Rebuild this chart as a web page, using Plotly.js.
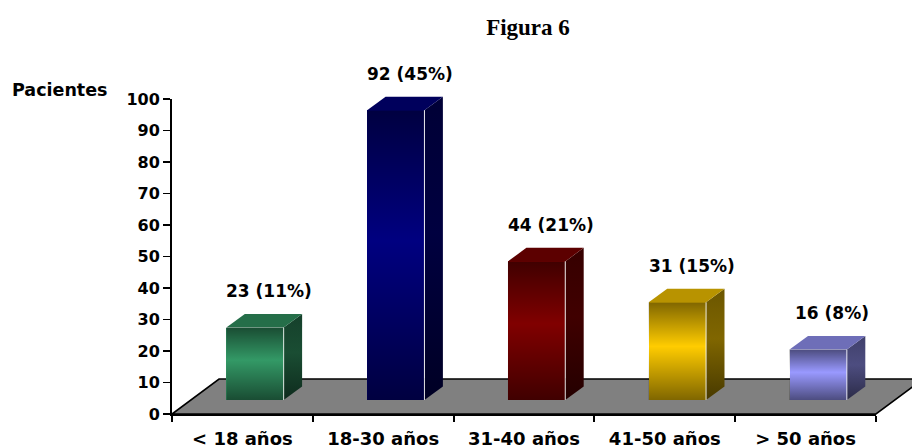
<!DOCTYPE html>
<html>
<head>
<meta charset="utf-8">
<script src="https://cdn.plot.ly/plotly-3.0.1.min.js"></script>
<style>
  html, body { margin: 0; padding: 0; background: #ffffff; }
  #chart { width: 912px; height: 448px; }
</style>
</head>
<body>
<div id="chart"></div>
<script>
// Age groups and patient counts
const categories = ['< 18 años', '18-30 años', '31-40 años', '41-50 años', '> 50 años'];
const patients = [23, 92, 44, 31, 16];
const percents = [11, 45, 21, 15, 8];
const barColors = ['#339966', '#000080', '#800000', '#FFCC00', '#9999FF'];
const yTicks = [0, 10, 20, 30, 40, 50, 60, 70, 80, 90, 100];

// Pseudo-3D geometry (in axis units of the hidden x2/y2 scales)
const BAR_WIDTH = 0.407;
const BAR_OFFSET = -0.114;
const DEPTH_X = 0.131;
const DEPTH_Y = 4.3;
const FLOOR_DX = 0.334;
const FLOOR_FRONT = -4.44;
const FLOOR_BACK = 6.67;

function shade(hex, f) {
  const n = parseInt(hex.slice(1), 16);
  const r = Math.round(((n >> 16) & 255) * f);
  const g = Math.round(((n >> 8) & 255) * f);
  const b = Math.round((n & 255) * f);
  return `rgb(${r},${g},${b})`;
}

const n = categories.length;
const traces = [];

// carrier trace so the visible category/value axes are drawn
traces.push({
  type: 'scatter', mode: 'markers', xaxis: 'x', yaxis: 'y',
  x: patients.map((_, i) => i), y: patients,
  marker: { opacity: 0, size: 1 }, hoverinfo: 'skip', showlegend: false
});

// front faces
traces.push({
  type: 'bar', xaxis: 'x2', yaxis: 'y2',
  x: patients.map((_, i) => i), y: patients,
  width: BAR_WIDTH, offset: BAR_OFFSET,
  marker: { color: barColors, line: { width: 0 } },
  hoverinfo: 'skip', showlegend: false
});

patients.forEach((v, i) => {
  const xl = i + BAR_OFFSET;
  const xr = xl + BAR_WIDTH;
  const c = barColors[i];
  // shading band on the front face
  traces.push({
    type: 'scatter', mode: 'lines', xaxis: 'x2', yaxis: 'y2',
    x: [xl, xr, xr, xl, xl], y: [0, 0, v, v, 0],
    fill: 'toself', line: { width: 0 },
    fillgradient: {
      type: 'vertical',
      colorscale: [[0, 'rgba(0,0,0,0.5)'], [0.55, 'rgba(0,0,0,0)'], [1, 'rgba(0,0,0,0.5)']]
    },
    hoverinfo: 'skip', showlegend: false
  });
  // side face
  traces.push({
    type: 'scatter', mode: 'lines', xaxis: 'x2', yaxis: 'y2',
    x: [xr, xr + DEPTH_X, xr + DEPTH_X, xr, xr],
    y: [0, DEPTH_Y, v + DEPTH_Y, v, 0],
    fill: 'toself', line: { width: 0 },
    fillgradient: {
      type: 'vertical',
      colorscale: [[0, shade(c, 0.28)], [0.55, shade(c, 0.5)], [1, shade(c, 0.42)]]
    },
    hoverinfo: 'skip', showlegend: false
  });
  // top face
  traces.push({
    type: 'scatter', mode: 'lines', xaxis: 'x2', yaxis: 'y2',
    x: [xl, xr, xr + DEPTH_X, xl + DEPTH_X, xl],
    y: [v, v, v + DEPTH_Y, v + DEPTH_Y, v],
    fill: 'toself', fillcolor: shade(c, 0.72), line: { width: 0 },
    hoverinfo: 'skip', showlegend: false
  });
  // highlight edge between front and side
  traces.push({
    type: 'scatter', mode: 'lines', xaxis: 'x2', yaxis: 'y2',
    x: [xr, xr], y: [0, v],
    line: { color: 'rgba(255,255,255,0.85)', width: 1 },
    hoverinfo: 'skip', showlegend: false
  });
});

const W = 912, H = 448;
const plotLeft = 172, plotRight = 876, plotTop = 99, plotBottom = 414;
const catPx = (plotRight - plotLeft) / n;
const valPx = (plotBottom - plotTop) / 100;
const baseY = 400;

const labelFont = { family: 'DejaVu Sans', size: 17, color: '#000000', weight: 700 };

const annotations = patients.map((v, i) => ({
  xref: 'x2', yref: 'y2', x: i + 0.19, y: v + 11.5,
  text: `${v} (${percents[i]}%)`, showarrow: false,
  xanchor: 'center', yanchor: 'middle', font: labelFont
}));
annotations.push({
  xref: 'paper', yref: 'paper', x: 60 / W, y: 1 - 90 / H,
  text: 'Pacientes', showarrow: false, xanchor: 'center', yanchor: 'middle',
  font: { family: 'DejaVu Sans', size: 17.5, color: '#000000', weight: 700 }
});

// grey floor plate under the bars
const floorX = [-0.5, n - 0.5, n - 0.5 + FLOOR_DX, -0.5 + FLOOR_DX];
const floorY = [FLOOR_FRONT, FLOOR_FRONT, FLOOR_BACK, FLOOR_BACK];
const floorPath = floorX.map((x, k) => (k ? 'L' : 'M') + x + ',' + floorY[k]).join(' ') + ' Z';

const layout = {
  width: W, height: H, autosize: false,
  margin: { l: 0, r: 0, t: 0, b: 0, pad: 0 },
  paper_bgcolor: '#ffffff', plot_bgcolor: 'rgba(0,0,0,0)',
  showlegend: false,
  title: {
    text: 'Figura 6', x: 528 / W, xanchor: 'center', y: 1 - 27 / H, yanchor: 'middle',
    font: { family: 'Liberation Serif', size: 23, color: '#000000', weight: 700 }
  },
  xaxis: {
    domain: [plotLeft / W, plotRight / W], anchor: 'y',
    range: [-0.5, n - 0.5], showgrid: false, zeroline: false,
    showline: true, linecolor: '#000000', linewidth: 2,
    tickmode: 'array', tickvals: categories.map((_, i) => i), ticktext: categories,
    ticks: '', ticklabelstandoff: 7,
    tickfont: { family: 'DejaVu Sans', size: 18, color: '#000000', weight: 700 },
    minor: {
      tickmode: 'array', tickvals: categories.map((_, i) => i - 0.5).concat([n - 0.5]),
      ticks: 'outside', ticklen: 6, tickwidth: 2, tickcolor: '#000000', showgrid: false
    },
    fixedrange: true, automargin: false
  },
  yaxis: {
    domain: [(H - plotBottom) / H, (H - plotTop) / H], anchor: 'x',
    range: [0, 100], tickmode: 'array', tickvals: yTicks,
    showgrid: false, zeroline: false,
    showline: true, linecolor: '#000000', linewidth: 2,
    ticks: 'outside', ticklen: 7, tickwidth: 1.5, tickcolor: '#000000',
    tickfont: { family: 'DejaVu Sans', size: 16, color: '#000000', weight: 700 },
    fixedrange: true, automargin: false
  },
  xaxis2: {
    domain: [0, 1], anchor: 'y2', visible: false,
    range: [-0.5 - plotLeft / catPx, (W - plotLeft) / catPx - 0.5],
    fixedrange: true
  },
  yaxis2: {
    domain: [0, 1], anchor: 'x2', visible: false,
    range: [-(H - baseY) / valPx, baseY / valPx],
    fixedrange: true
  },
  shapes: [{
    type: 'path', xref: 'x2', yref: 'y2', layer: 'below', path: floorPath,
    fillcolor: '#808080', line: { color: '#000000', width: 1.6 }
  }],
  annotations: annotations,
  bargap: 0
};

Plotly.newPlot('chart', traces, layout, { staticPlot: true, displayModeBar: false });
</script>
</body>
</html>
